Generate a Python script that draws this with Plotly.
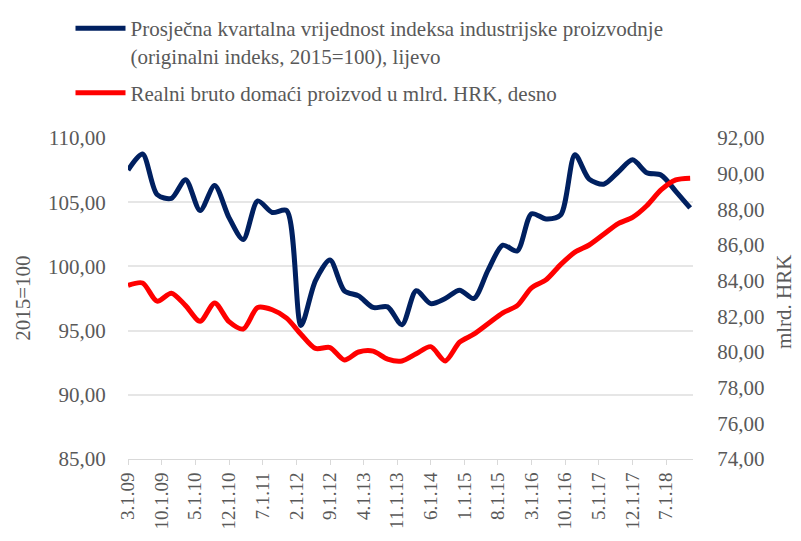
import pandas as pd
import plotly.graph_objects as go

# Quarterly observations, Mar 2009 .. Dec 2018
quarters = [d.strftime("%Y-%m-%d") for d in pd.date_range("2009-03-01", periods=40, freq="3MS")]

industrial_index = [
    107.5, 108.75, 105.6, 105.3, 106.75, 104.35, 106.3, 103.8, 102.1, 105.1,
    104.2, 104.35, 95.4, 98.9, 100.5, 98.1, 97.7, 96.8, 96.85, 95.45,
    98.1, 97.1, 97.5, 98.15, 97.5, 99.75, 101.65, 101.2, 104.1, 103.7,
    104.0, 108.7, 106.8, 106.4, 107.35, 108.3, 107.3, 107.1, 105.85, 104.55,
]

real_gdp = [
    83.73, 83.87, 82.85, 83.3, 82.6, 81.72, 82.75, 81.7, 81.29, 82.5,
    82.37, 81.9, 81.0, 80.2, 80.25, 79.55, 80.0, 80.05, 79.6, 79.5,
    79.9, 80.3, 79.5, 80.55, 81.0, 81.6, 82.2, 82.6, 83.6, 84.05,
    84.9, 85.6, 86.0, 86.6, 87.2, 87.55, 88.2, 89.1, 89.65, 89.75,
]

tick_dates = [d.strftime("%Y-%m-%d") for d in pd.date_range("2009-03-01", periods=17, freq="7MS")]
tick_labels = [
    "3.1.09", "10.1.09", "5.1.10", "12.1.10", "7.1.11", "2.1.12", "9.1.12",
    "4.1.13", "11.1.13", "6.1.14", "1.1.15", "8.1.15", "3.1.16", "10.1.16",
    "5.1.17", "12.1.17", "7.1.18",
]

left_title = "2015=100"
right_title = "mlrd. HRK"
name_blue = "Prosječna kvartalna vrijednost indeksa industrijske proizvodnje<br>(originalni indeks, 2015=100), lijevo"
name_red = "Realni bruto domaći proizvod u mlrd. HRK, desno"

FONT = "Liberation Serif, Times New Roman, serif"
GREY = "#595959"

fig = go.Figure()
fig.add_trace(go.Scatter(
    x=quarters, y=industrial_index, name=name_blue, mode="lines",
    line=dict(color="#002060", width=5, shape="spline", smoothing=0.8),
    legendgroup="a",
))
fig.add_trace(go.Scatter(
    x=quarters, y=real_gdp, name=name_red, mode="lines", yaxis="y2",
    line=dict(color="#FF0000", width=5, shape="spline", smoothing=0.8),
    legendgroup="b",
))

fig.update_layout(
    width=793, height=533,
    margin=dict(l=120, r=108, t=130, b=82, autoexpand=False),
    paper_bgcolor="white", plot_bgcolor="white",
    font=dict(family=FONT, color=GREY, size=20),
    showlegend=True,
    legend=dict(
        xref="container", yref="container", x=62.5 / 793, y=1.0,
        xanchor="left", yanchor="top",
        font=dict(family=FONT, size=21, color=GREY),
        valign="top", tracegroupgap=7, itemwidth=50,
        bgcolor="rgba(0,0,0,0)",
    ),
    xaxis=dict(
        type="date", automargin=False,
        range=["2009-03-01", "2018-12-19"],
        tickmode="array", tickvals=tick_dates, ticktext=tick_labels,
        tickangle=-90, tickfont=dict(size=19, family=FONT, color=GREY),
        showgrid=False, showline=True, linecolor="#D9D9D9", linewidth=1,
        ticks="outside", ticklen=5, tickcolor="#D9D9D9",
        zeroline=False,
    ),
    yaxis=dict(
        range=[85, 110], dtick=5, tickformat=".2f", automargin=False,
        showgrid=True, gridcolor="#E6E6E6", gridwidth=1.5,
        zeroline=False, ticks="outside", ticklen=17, tickcolor="rgba(0,0,0,0)",
        tickfont=dict(size=21, family=FONT, color=GREY),
    ),
    yaxis2=dict(
        range=[74, 92], dtick=2, tickformat=".2f", overlaying="y", side="right",
        automargin=False,
        showgrid=False, zeroline=False, ticks="outside", ticklen=19,
        tickcolor="rgba(0,0,0,0)",
        tickfont=dict(size=21, family=FONT, color=GREY),
    ),
    separators=",.",
    annotations=[
        dict(text=left_title, xref="paper", yref="paper", x=-0.187, y=0.5,
             xanchor="center", yanchor="middle", textangle=-90, showarrow=False,
             font=dict(size=21, family=FONT, color=GREY)),
        dict(text=right_title, xref="paper", yref="paper", x=1.16, y=0.49,
             xanchor="center", yanchor="middle", textangle=-90, showarrow=False,
             font=dict(size=21, family=FONT, color=GREY)),
    ],
)

fig.write_html("out.html")
